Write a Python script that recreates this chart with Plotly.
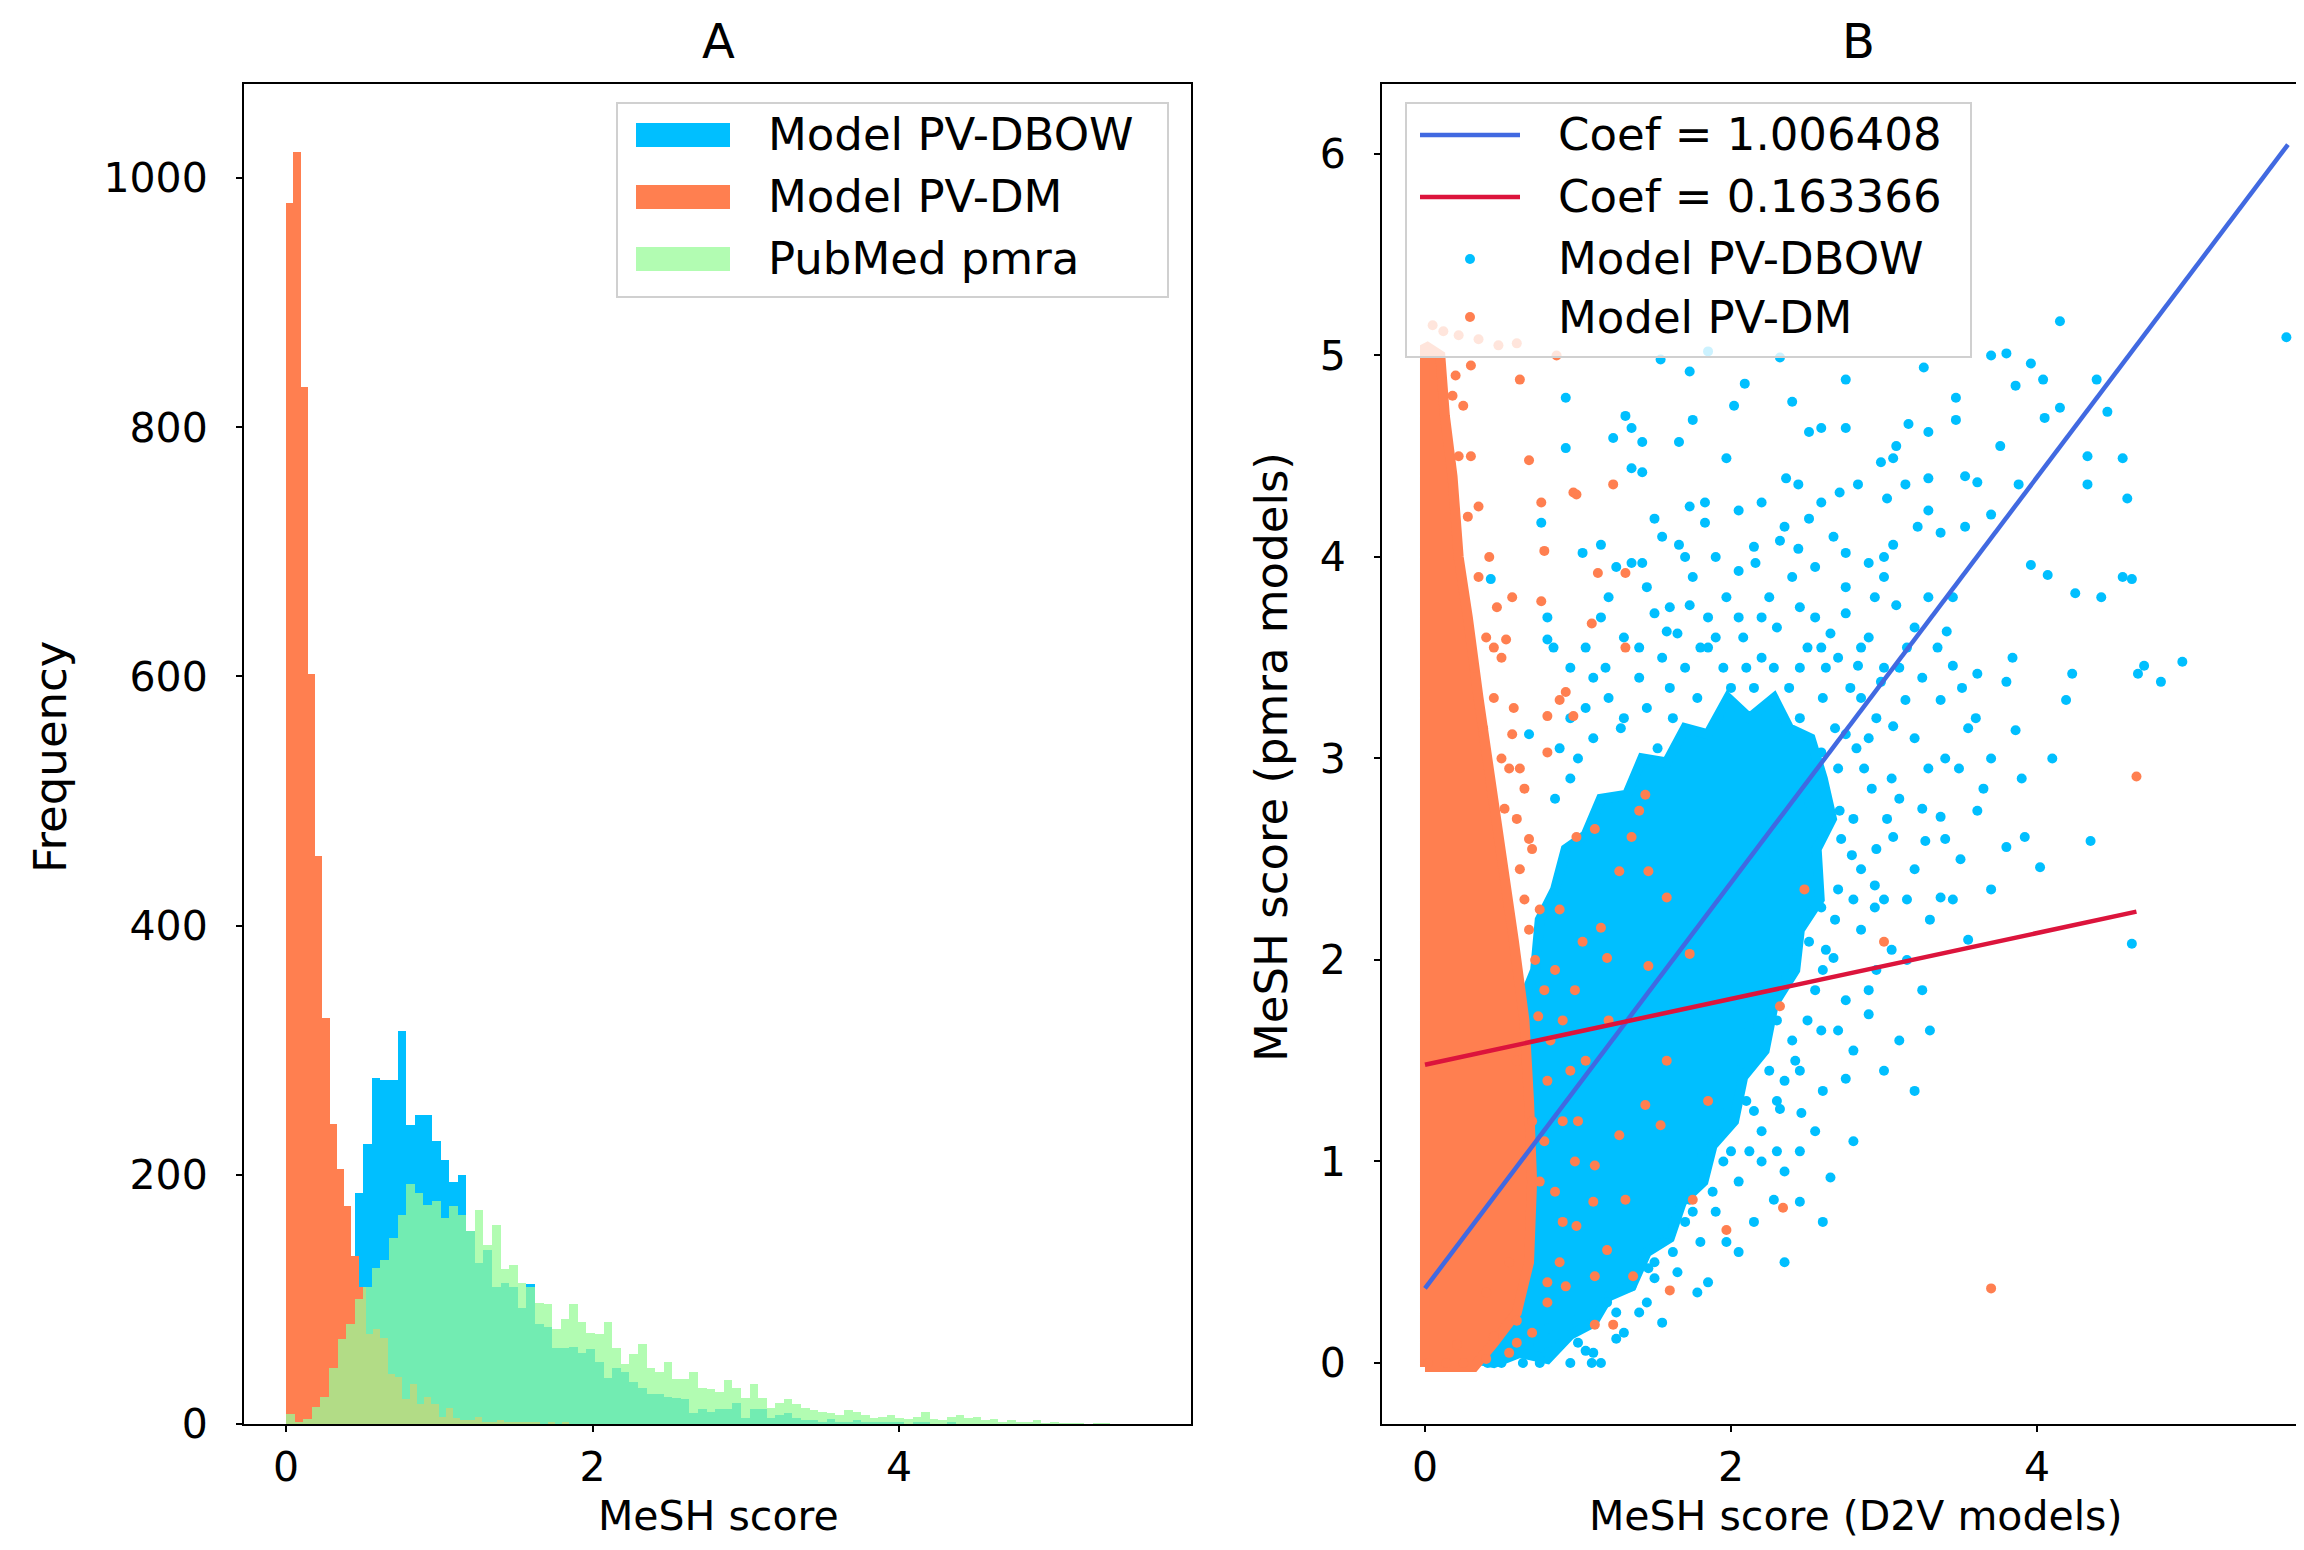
import plotly.graph_objects as go

# target picture is 2304x1550; the page body adds an 8px margin
OFF = 8
W, H = 2304 - 2 * OFF, 1550 - 2 * OFF
FONT = "DejaVu Sans"
FS = 45       # legend / y-title text
FS_TICK = 41  # tick labels
FS_XT = 41    # x-axis titles

# ---------------- Panel A : histogram data (counts per bin) ----------------
HIST_W = 0.056        # bin width, PV-DBOW and PubMed pmra
HIST_W_DM = 0.0474    # bin width, PV-DM
dbow_counts = [0, 0, 2, 5, 12, 30, 60, 120, 185, 225, 278,
               276, 276, 315, 240, 248, 248, 227, 212, 194, 200, 155,
               129, 140, 110, 113, 110, 93, 112, 80, 78,
               61, 61, 62, 57, 60, 50, 37, 45, 42, 34,
               29, 24, 24, 22, 21, 20, 9, 12, 10, 12,
               12, 17, 5, 12, 12, 5, 7, 9, 5, 3,
               3, 2, 4, 2, 2, 3, 1, 2, 1, 1,
               1, 0, 1, 1, 0, 0, 1, 0]
dm_counts = [980, 1021, 832, 602, 456, 326, 241, 205, 175, 135, 110, 72, 76, 69,
             40, 38, 20, 32, 16, 22, 16, 6, 13, 5, 3, 3, 6, 2, 2, 3, 1, 2, 1, 1,
             1, 0, 1, 0, 1]
pmra_counts = [8, 2, 4, 14, 22, 45, 68, 80, 100, 110, 125,
               132, 149, 168, 193, 185, 176, 179, 165, 175, 168, 155,
               172, 144, 160, 124, 128, 113, 110, 97, 96,
               76, 84, 96, 82, 73, 72, 82, 61, 48, 56,
               64, 45, 42, 50, 36, 36, 42, 29, 28, 26,
               35, 29, 21, 32, 21, 13, 17, 20, 16, 13,
               11, 10, 9, 7, 11, 10, 7, 5, 6, 7,
               5, 4, 6, 10, 4, 3, 6, 7, 5, 6, 3, 4, 2, 3, 2, 2, 3, 1, 2, 1, 1, 1, 0, 1, 1]

# ---------------- Panel B : scatter data ----------------
dbow_pts = [
    (4.15, 5.17), (5.63, 5.09), (3.70, 5.00), (3.80, 5.01), (3.96, 4.96), (3.86, 4.85), (4.04, 4.88),
    (2.75, 4.88), (2.09, 4.86), (1.73, 4.92), (1.54, 4.98), (1.85, 5.02), (2.32, 4.99), (3.26, 4.94),
    (4.39, 4.88), (4.15, 4.74), (4.05, 4.69), (4.46, 4.72), (4.33, 4.50), (4.56, 4.49), (4.33, 4.36),
    (4.59, 4.29), (4.56, 3.90), (4.25, 3.82), (3.96, 3.96), (4.07, 3.91), (3.47, 4.79), (3.47, 4.68),
    (3.16, 4.66), (3.29, 4.62), (3.08, 4.55), (3.06, 4.49), (2.98, 4.47), (2.75, 4.64), (2.59, 4.64),
    (2.51, 4.62), (2.40, 4.77), (2.02, 4.75), (1.75, 4.68), (1.66, 4.57), (1.31, 4.70), (1.35, 4.64),
    (1.42, 4.57), (1.23, 4.59), (0.92, 4.79), (0.92, 4.54), (1.35, 4.44), (1.42, 4.42), (1.50, 4.19),
    (1.73, 4.25), (1.83, 4.27), (1.66, 4.06), (1.83, 4.17), (1.97, 4.49), (2.05, 4.23), (2.20, 4.27),
    (2.36, 4.39), (2.44, 4.36), (2.59, 4.27), (2.71, 4.32), (2.83, 4.36), (3.02, 4.29), (3.14, 4.36),
    (3.29, 4.39), (3.53, 4.40), (3.61, 4.37), (3.76, 4.55), (3.88, 4.36), (3.70, 4.21), (3.53, 4.15),
    (3.37, 4.12), (3.29, 4.23), (3.22, 4.15), (3.06, 4.06), (2.90, 3.97), (2.75, 4.02), (2.67, 4.10),
    (2.51, 4.19), (2.44, 4.04), (2.32, 4.08), (2.16, 3.97), (2.05, 3.93), (1.97, 3.80), (1.85, 3.55),
    (1.73, 3.76), (1.58, 3.63), (1.50, 3.72), (1.42, 3.97), (1.35, 3.97), (1.15, 4.06), (1.03, 4.02),
    (0.80, 3.70), (0.76, 4.17), (0.80, 3.59), (0.43, 3.89), (0.68, 3.12), (0.84, 3.55), (4.70, 3.46),
    (4.95, 3.48), (4.81, 3.38), (4.23, 3.42), (3.84, 3.50), (3.80, 3.38), (4.19, 3.29), (3.86, 3.14),
    (4.42, 3.80), (4.62, 3.89), (4.66, 3.42), (3.61, 3.42), (3.45, 3.46), (3.37, 3.29), (3.51, 3.35),
    (3.29, 2.95), (3.49, 2.95), (3.61, 2.74), (3.37, 2.71), (3.06, 2.61), (3.27, 2.59), (3.37, 2.31),
    (2.94, 2.37), (2.94, 2.26), (3.92, 2.61), (4.02, 2.46), (3.80, 2.56), (4.35, 2.59), (4.62, 2.08),
    (2.90, 1.73), (2.75, 1.41), (2.59, 1.65), (2.46, 1.24), (2.32, 1.26), (2.42, 1.50), (2.20, 1.00),
    (2.65, 0.92), (2.12, 1.05), (1.97, 0.60), (2.28, 0.81), (3.06, 3.16), (3.14, 3.29), (2.98, 3.38),
    (2.83, 3.46), (2.59, 3.55), (2.75, 3.72), (2.94, 3.80), (3.08, 3.76), (3.29, 3.80), (3.41, 3.63),
    (2.87, 2.95), (2.75, 3.12), (2.59, 3.03), (2.44, 2.95), (2.51, 2.78), (2.71, 2.74), (2.36, 2.65),
    (2.28, 2.52), (2.44, 2.44), (2.59, 2.26), (2.79, 2.52), (2.16, 2.26), (2.51, 2.09), (2.36, 1.92),
    (2.67, 2.01), (2.12, 1.67), (2.05, 1.45), (1.93, 1.24), (1.81, 1.03), (1.73, 0.81), (1.58, 0.64),
    (1.46, 0.47), (1.35, 0.38), (1.19, 0.30), (0.99, 0.21), (0.80, 0.17), (0.68, 0.09), (0.49, 0.13),
    (0.33, 0.04), (0.41, 0.00), (0.64, 0.00), (1.09, 0.00), (1.15, 0.00), (0.60, 0.19), (0.37, 0.19),
    (0.14, 0.19), (0.02, 0.17), (0.55, 1.60), (0.50, 1.20), (0.45, 0.70), (0.95, 2.90), (1.10, 3.10),
    (1.30, 3.20), (1.60, 3.35), (2.10, 3.45), (2.45, 3.20), (2.55, 2.80), (2.50, 2.40), (2.40, 2.00),
    (2.30, 1.70), (2.10, 1.30), (1.95, 1.00), (1.70, 0.70), (1.50, 0.50), (1.25, 0.25), (1.00, 0.10),
    (0.80, 0.05),
    (1.20, 3.30), (1.40, 3.40), (1.55, 3.50), (1.70, 3.45), (1.90, 3.60), (2.00, 3.35), (2.20, 3.50),
    (2.30, 3.65), (2.45, 3.45), (2.60, 3.30), (2.70, 3.50), (2.85, 3.30), (2.90, 3.60), (3.00, 3.45),
    (3.15, 3.55), (3.20, 3.10), (3.05, 2.90), (2.90, 3.10), (2.70, 2.95), (2.80, 2.70), (2.95, 2.55),
    (3.10, 2.80), (3.20, 2.45), (3.00, 2.30), (2.85, 2.15), (2.70, 2.35), (2.60, 1.95), (2.75, 1.80),
    (2.50, 1.70), (2.45, 1.45), (2.30, 1.30), (2.20, 1.15), (2.05, 0.90), (1.90, 0.75), (1.80, 0.60),
    (1.65, 0.45), (1.45, 0.30), (1.30, 0.15), (1.10, 0.05), (0.95, 0.00), (0.75, 0.00), (0.50, 0.00),
    (1.60, 3.75), (1.75, 3.90), (2.25, 3.80), (2.40, 3.90), (2.55, 3.70), (2.05, 3.70), (1.30, 3.60),
    (1.10, 3.40), (0.95, 3.20), (1.00, 3.00), (0.85, 2.80), (1.05, 3.55), (1.20, 3.80), (3.40, 3.00),
    (3.50, 2.50), (3.30, 2.20), (3.15, 2.00), (2.95, 1.95), (3.10, 1.60), (2.80, 1.55), (2.60, 1.35),
    (2.45, 1.05), (2.35, 0.95), (2.15, 0.70), (1.85, 0.40), (1.55, 0.20), (2.55, 3.95), (2.75, 3.85),
    (3.00, 4.00), (1.90, 4.00), (1.55, 4.10), (1.25, 3.95), (3.45, 3.80), (3.60, 3.20), (3.70, 3.00),
    (3.55, 2.10), (3.20, 1.35), (2.80, 1.10), (2.60, 0.70), (2.35, 0.50),
    (1.05, 3.25), (1.18, 3.45), (1.28, 3.15), (1.45, 3.25), (1.52, 3.05), (1.62, 3.20), (1.78, 3.30),
    (1.80, 3.55), (1.95, 3.45), (2.08, 3.60), (2.15, 3.35), (2.28, 3.45), (2.38, 3.35), (2.50, 3.55),
    (2.62, 3.45), (2.68, 3.15), (2.78, 3.35), (2.82, 3.05), (2.95, 3.20), (2.92, 2.85), (3.02, 2.70),
    (2.85, 2.45), (2.72, 2.60), (2.68, 2.20), (2.80, 2.30), (2.62, 2.05), (2.55, 1.85), (2.70, 1.65),
    (2.40, 1.60), (2.35, 1.40), (2.25, 1.45), (2.15, 1.25), (2.00, 1.05), (1.88, 0.85), (1.75, 0.75),
    (1.62, 0.55), (1.50, 0.42), (1.40, 0.25), (1.25, 0.12), (1.05, 0.06), (1.40, 3.55), (1.65, 3.62),
    (1.85, 3.70), (2.20, 3.70), (2.45, 3.75), (2.65, 3.62), (2.85, 3.55), (3.10, 3.45), (3.25, 3.40),
    (3.20, 3.65), (3.35, 3.55), (3.00, 3.90), (2.35, 4.15), (2.15, 4.05), (1.70, 4.00), (1.45, 3.85),
    (1.15, 3.70), (0.95, 3.45), (0.88, 3.05), (3.25, 2.75), (3.15, 2.30), (3.05, 2.05), (2.90, 1.85),
    (3.25, 1.85), (3.45, 2.30), (3.40, 2.60), (3.00, 1.45), (2.55, 1.15), (2.30, 1.05), (2.45, 0.80),
    (2.05, 0.55), (1.78, 0.35), (3.55, 3.15), (3.65, 2.85), (3.70, 2.35), (3.90, 2.90), (4.10, 3.00),
    (3.30, 1.65),
]
dm_pts = [
    (4.65, 2.91), (3.70, 0.37), (2.32, 1.77), (2.34, 0.77), (1.97, 0.66), (1.60, 0.36), (1.85, 1.30),
    (2.48, 2.35), (3.00, 2.09), (1.75, 0.81), (1.44, 2.82), (1.40, 2.74), (1.23, 4.36), (0.97, 4.32),
    (1.13, 3.92), (1.31, 3.92), (0.76, 4.27), (0.68, 4.48), (0.62, 4.88), (0.86, 5.00), (0.78, 4.03),
    (0.76, 3.78), (1.09, 3.67), (0.99, 4.31), (0.57, 3.80), (0.53, 3.59), (1.31, 3.55), (0.92, 3.33),
    (0.88, 3.29), (0.80, 3.21), (0.97, 3.21), (0.57, 3.12), (0.80, 3.03), (0.62, 2.95), (0.99, 2.61),
    (1.11, 2.65), (1.35, 2.61), (1.27, 2.44), (1.46, 2.44), (1.58, 2.31), (1.15, 2.16), (1.03, 2.09),
    (1.19, 2.01), (1.46, 1.97), (1.73, 2.03), (1.58, 1.50), (1.44, 1.28), (1.54, 1.18), (1.27, 1.13),
    (1.11, 0.98), (1.31, 0.81), (0.99, 0.68), (1.19, 0.56), (1.11, 0.43), (0.92, 0.38), (0.80, 0.30),
    (0.60, 0.21), (0.45, 0.13), (0.21, 0.09), (0.02, 0.00), (0.14, 0.00), (0.25, 0.00), (1.11, 0.19),
    (1.36, 0.43), (1.23, 0.19), (0.20, 4.90), (0.25, 4.75), (0.30, 4.50), (0.35, 4.25), (0.42, 4.00),
    (0.47, 3.75), (0.50, 3.50), (0.58, 3.25), (0.65, 2.85), (0.70, 2.55), (0.75, 2.25), (0.85, 1.95),
    (0.90, 1.70), (0.95, 1.45), (0.90, 1.20), (0.98, 1.00), (0.90, 0.70), (0.88, 0.50), (0.70, 0.15),
    (0.55, 0.05), (0.40, 0.02), (0.05, 5.15), (0.12, 5.12), (0.22, 5.10), (0.35, 5.08), (0.48, 5.05),
    (0.60, 5.06), (0.30, 4.95),
    (0.60, 1.50), (0.70, 1.20), (0.75, 0.90), (0.72, 2.00), (0.65, 2.30), (0.60, 2.70), (0.50, 3.00),
    (0.45, 3.30), (0.40, 3.60), (0.35, 3.90), (0.28, 4.20), (0.22, 4.50), (0.18, 4.80), (0.40, 0.35),
    (0.55, 0.50), (0.85, 0.85), (0.82, 1.60), (0.78, 1.85), (0.68, 2.60), (0.55, 2.95), (0.45, 3.55),
    (0.60, 0.10), (0.80, 0.40), (1.00, 1.20), (1.05, 1.50), (0.98, 1.85), (1.20, 1.70), (0.88, 2.25),
    (1.10, 0.80), (0.78, 1.10), (0.80, 1.40), (0.74, 1.72), (0.68, 2.15), (0.62, 2.45), (0.52, 2.75),
    (0.38, 3.15), (0.32, 3.45),
]
# outlines of the regions where the dots overlap into a solid mass
dbow_core = [(0.25, 0.03), (0.45, 0.00), (0.62, 0.05), (0.80, 0.02), (0.95, 0.14), (1.10, 0.20),
             (1.20, 0.33), (1.35, 0.38), (1.45, 0.55), (1.60, 0.62), (1.68, 0.80), (1.82, 0.90),
             (1.88, 1.08), (2.02, 1.20), (2.08, 1.42), (2.22, 1.55), (2.28, 1.78), (2.42, 1.95),
             (2.45, 2.15), (2.58, 2.30), (2.56, 2.55), (2.66, 2.70), (2.60, 2.90), (2.52, 3.10),
             (2.38, 3.15), (2.28, 3.30), (2.12, 3.20), (1.98, 3.30), (1.85, 3.12), (1.70, 3.15),
             (1.58, 2.98), (1.42, 3.00), (1.32, 2.82), (1.15, 2.80), (1.05, 2.62), (0.92, 2.55),
             (0.85, 2.35), (0.75, 2.20), (0.72, 1.95), (0.64, 1.80), (0.62, 1.50), (0.55, 1.30),
             (0.52, 1.00), (0.44, 0.80), (0.40, 0.50), (0.30, 0.35)]
dm_core = [(0.00, -0.02), (0.32, -0.02), (0.45, 0.10), (0.60, 0.25), (0.68, 0.50), (0.70, 0.90),
           (0.68, 1.30), (0.65, 1.70), (0.58, 2.10), (0.50, 2.50), (0.42, 2.90), (0.35, 3.30),
           (0.28, 3.70), (0.22, 4.00), (0.18, 4.40), (0.13, 4.70), (0.10, 5.00), (0.00, 5.05)]

fit_labels = ["Coef = 1.006408", "Coef = 0.163366"]
fit_coef = [1.006408, 0.163366]
fit_intercept = [0.37, 1.48]
fit_xmax = [5.64, 4.65]

C_DBOW = "#00BFFF"
C_DM = "#FF7F50"
C_PMRA = "rgba(152,251,152,0.75)"
C_LINES = ["#4169E1", "#DC143C"]
MS = 10
LW = 4.5

fig = go.Figure()

# ---- Panel A
def centers(n, w):
    return [w * (i + 0.5) for i in range(n)]

for counts, w, col, name in [(dbow_counts, HIST_W, C_DBOW, "Model PV-DBOW"),
                             (dm_counts, HIST_W_DM, C_DM, "Model PV-DM"),
                             (pmra_counts, HIST_W, C_PMRA, "PubMed pmra")]:
    fig.add_trace(go.Bar(x=centers(len(counts), w), y=counts, width=w,
                         marker=dict(color=col, line=dict(width=0)),
                         name=name, showlegend=False, xaxis="x", yaxis="y"))

# ---- Panel B
def poly(pts, col):
    xs = [p[0] for p in pts] + [pts[0][0]]
    ys = [p[1] for p in pts] + [pts[0][1]]
    return go.Scatter(x=xs, y=ys, fill="toself", fillcolor=col, mode="lines",
                      line=dict(color=col, width=MS), showlegend=False,
                      hoverinfo="skip", xaxis="x2", yaxis="y2")

fig.add_trace(poly(dbow_core, C_DBOW))
fig.add_trace(go.Scatter(x=[p[0] for p in dbow_pts], y=[p[1] for p in dbow_pts], mode="markers",
                         marker=dict(color=C_DBOW, size=MS, line=dict(width=0)),
                         name="Model PV-DBOW", showlegend=False, xaxis="x2", yaxis="y2"))
fig.add_trace(poly(dm_core, C_DM))
fig.add_trace(go.Scatter(x=[p[0] for p in dm_pts], y=[p[1] for p in dm_pts], mode="markers",
                         marker=dict(color=C_DM, size=MS, line=dict(width=0)),
                         name="Model PV-DM", showlegend=False, xaxis="x2", yaxis="y2"))
for lab, c, b, xm, col in zip(fit_labels, fit_coef, fit_intercept, fit_xmax, C_LINES):
    fig.add_trace(go.Scatter(x=[0, xm], y=[b, b + c * xm], mode="lines",
                             line=dict(color=col, width=LW), name=lab,
                             showlegend=False, xaxis="x2", yaxis="y2"))

# ---- layout helpers (target-picture pixel -> paper)
def PX(x):
    return (x - OFF) / W

def PY(y):
    return 1 - (y - OFF) / H

axis_common = dict(showline=True, linewidth=2, linecolor="black", ticks="outside",
                   ticklen=6, tickwidth=2, tickcolor="black", showgrid=False,
                   zeroline=False, automargin=False,
                   tickfont=dict(family=FONT, size=FS_TICK, color="black"))

ydom = [PY(1424), PY(84)]
xr2_right = (2304 - OFF - 1425) / 153.0
fig.update_layout(
    width=W, height=H, margin=dict(l=0, r=0, t=0, b=0, autoexpand=False),
    paper_bgcolor="white", plot_bgcolor="white",
    barmode="overlay", bargap=0, showlegend=False,
    xaxis=dict(domain=[PX(244), PX(1191)], range=[-0.274, 5.904], tickvals=[0, 2, 4],
               mirror=True, anchor="y", ticklabelstandoff=0, **axis_common),
    yaxis=dict(domain=ydom, range=[0, 1075.4], tickvals=[0, 200, 400, 600, 800, 1000],
               mirror=True, anchor="x", ticklabelstandoff=20, **axis_common),
    xaxis2=dict(domain=[PX(1382), 1.0], range=[-0.281, xr2_right], tickvals=[0, 2, 4],
                mirror=True, anchor="y2", ticklabelstandoff=0, **axis_common),
    yaxis2=dict(domain=ydom, range=[-0.303, 6.347], tickvals=[0, 1, 2, 3, 4, 5, 6],
                mirror=False, anchor="x2", ticklabelstandoff=20, **axis_common),
)

ann = []
shapes = []

def text(x, y, s, size=FS, xanchor="center", angle=0, yanchor="middle"):
    ann.append(dict(x=PX(x), y=PY(y), xref="paper", yref="paper", text=s, showarrow=False,
                    xanchor=xanchor, yanchor=yanchor, textangle=angle, borderpad=0,
                    font=dict(family=FONT, size=size, color="black")))

# titles and axis labels
text(718, 41, "A", size=48)
text(1858, 41, "B", size=48)
text(718, 1541, "MeSH score", size=FS_XT, yanchor="bottom")
text(1855, 1541, "MeSH score (D2V models)", size=FS_XT, yanchor="bottom")
text(51, 757, "Frequency", angle=-90)
text(1272, 757, "MeSH score (pmra models)", angle=-90)

# legend A
shapes.append(dict(type="rect", xref="paper", yref="paper", x0=PX(617), x1=PX(1168),
                   y0=PY(297), y1=PY(103), line=dict(color="#d0d0d0", width=2),
                   fillcolor="rgba(255,255,255,0.8)", layer="above"))
for i, (lab, col) in enumerate([("Model PV-DBOW", C_DBOW), ("Model PV-DM", C_DM),
                                ("PubMed pmra", C_PMRA)]):
    yc = 135 + 62 * i
    shapes.append(dict(type="rect", xref="paper", yref="paper", x0=PX(636), x1=PX(730),
                       y0=PY(yc + 12), y1=PY(yc - 12), line=dict(width=0),
                       fillcolor=col, layer="above"))
    text(767, yc, lab, xanchor="left")

# legend B
shapes.append(dict(type="rect", xref="paper", yref="paper", x0=PX(1406), x1=PX(1971),
                   y0=PY(357), y1=PY(103), line=dict(color="#d0d0d0", width=2),
                   fillcolor="rgba(255,255,255,0.8)", layer="above"))
rows_b = [135, 197, 259, 317]
for i, (lab, col) in enumerate(zip(fit_labels, C_LINES)):
    yc = rows_b[i]
    shapes.append(dict(type="line", xref="paper", yref="paper", x0=PX(1420), x1=PX(1520),
                       y0=PY(yc), y1=PY(yc), line=dict(color=col, width=LW), layer="above"))
    text(1557, yc, lab, xanchor="left")
for j, (lab, col) in enumerate([("Model PV-DBOW", C_DBOW), ("Model PV-DM", C_DM)]):
    yc = rows_b[2 + j]
    shapes.append(dict(type="circle", xref="paper", yref="paper", x0=PX(1465), x1=PX(1475),
                       y0=PY(yc + 5), y1=PY(yc - 5), line=dict(width=0),
                       fillcolor=col, layer="above"))
    text(1557, yc, lab, xanchor="left")

fig.update_layout(annotations=ann, shapes=shapes)
fig.write_html("out.html")
